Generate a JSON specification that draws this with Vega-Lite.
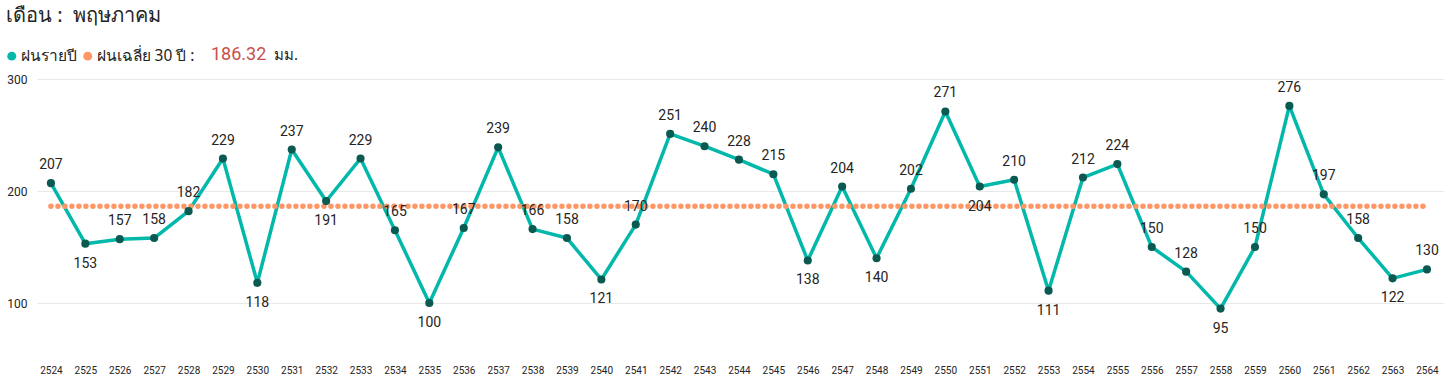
{
  "$schema": "https://vega.github.io/schema/vega-lite/v6.json",
  "width": 1407,
  "height": 280,
  "autosize": "none",
  "padding": {"left": 37, "top": 79, "right": 0, "bottom": 22},
  "background": "white",
  "title": {"text": "เดือน :\u00a0\u00a0พฤษภาคม", "anchor": "start", "frame": "group", "fontSize": 20, "fontWeight": "normal", "color": "#252423", "font": "Noto Sans", "dx": -31, "offset": 0, "baseline": "bottom"},
  "datasets": {
    "rain": [
      {"year": 2524, "rain": 207}, {"year": 2525, "rain": 153}, {"year": 2526, "rain": 157},
      {"year": 2527, "rain": 158}, {"year": 2528, "rain": 182}, {"year": 2529, "rain": 229},
      {"year": 2530, "rain": 118}, {"year": 2531, "rain": 237}, {"year": 2532, "rain": 191},
      {"year": 2533, "rain": 229}, {"year": 2534, "rain": 165}, {"year": 2535, "rain": 100},
      {"year": 2536, "rain": 167}, {"year": 2537, "rain": 239}, {"year": 2538, "rain": 166},
      {"year": 2539, "rain": 158}, {"year": 2540, "rain": 121}, {"year": 2541, "rain": 170},
      {"year": 2542, "rain": 251}, {"year": 2543, "rain": 240}, {"year": 2544, "rain": 228},
      {"year": 2545, "rain": 215}, {"year": 2546, "rain": 138}, {"year": 2547, "rain": 204},
      {"year": 2548, "rain": 140}, {"year": 2549, "rain": 202}, {"year": 2550, "rain": 271},
      {"year": 2551, "rain": 204}, {"year": 2552, "rain": 210}, {"year": 2553, "rain": 111},
      {"year": 2554, "rain": 212}, {"year": 2555, "rain": 224}, {"year": 2556, "rain": 150},
      {"year": 2557, "rain": 128}, {"year": 2558, "rain": 95}, {"year": 2559, "rain": 150},
      {"year": 2560, "rain": 276}, {"year": 2561, "rain": 197}, {"year": 2562, "rain": 158},
      {"year": 2563, "rain": 122}, {"year": 2564, "rain": 130}
    ],
    "avg": [{"name": "ฝนเฉลี่ย 30 ปี", "value": 186.32, "unit": "มม."}]
  },
  "config": {
    "view": {"stroke": null},
    "font": "Roboto"
  },
  "layer": [
    {
      "data": {"name": "rain"},
      "mark": {"type": "line", "strokeWidth": 3.5, "strokeJoin": "round"},
      "encoding": {
        "x": {"field": "year", "type": "ordinal", "sort": "ascending",
          "scale": {"type": "point", "padding": 0.45, "align": 0.45},
          "axis": {"title": null, "labelAngle": 0, "domain": false, "ticks": false, "grid": false, "labelFont": "Roboto", "labelFontSize": 10, "labelColor": "#252423", "labelPadding": 6}},
        "y": {"field": "rain", "type": "quantitative",
          "scale": {"domain": [50, 300], "nice": false, "zero": false},
          "axis": {"title": null, "values": [100, 200, 300], "domain": false, "ticks": false, "gridColor": "#E9E9E9", "gridWidth": 1, "labelFont": "Roboto", "labelFontSize": 12, "labelColor": "#252423", "labelPadding": 10}},
        "color": {"datum": "ฝนรายปี", "type": "nominal",
          "scale": {"domain": ["ฝนรายปี", "ฝนเฉลี่ย 30 ปี :"], "range": ["#01B8AA", "#FE9666"]},
          "legend": {"title": null, "orient": "none", "legendX": -33, "legendY": -31, "direction": "horizontal",
            "symbolType": "circle", "symbolSize": 80, "labelFont": "Noto Sans", "labelFontSize": 15.5, "labelColor": "#252423",
            "labelOffset": 1, "columnPadding": 3, "symbolOffset": 0,
            "encode": {"symbols": {"update": {"fill": {"scale": "color", "field": "value"}, "strokeWidth": {"value": 0}}}}}}
      }
    },
    {
      "data": {"name": "avg"},
      "mark": {"type": "rule", "strokeWidth": 5.5, "strokeDash": [0, 7], "strokeCap": "round", "color": "#FE9666"},
      "encoding": {
        "x": {"datum": 2524, "type": "ordinal"},
        "x2": {"datum": 2564},
        "y": {"field": "value", "type": "quantitative"}
      }
    },
    {
      "data": {"name": "rain"},
      "mark": {"type": "circle", "size": 66, "opacity": 1, "color": "#0B5A52"},
      "encoding": {
        "x": {"field": "year", "type": "ordinal"},
        "y": {"field": "rain", "type": "quantitative"}
      }
    },
    {
      "data": {"name": "rain"},
      "transform": [
        {"window": [{"op": "lag", "field": "rain", "as": "prev"}, {"op": "lead", "field": "rain", "as": "next"}], "sort": [{"field": "year"}]},
        {"filter": "!((datum.prev == null || datum.rain < datum.prev) && (datum.next == null || datum.rain < datum.next))"}
      ],
      "mark": {"type": "text", "dy": -18, "fontSize": 14, "font": "Roboto", "color": "#252423", "baseline": "middle"},
      "encoding": {
        "x": {"field": "year", "type": "ordinal"},
        "y": {"field": "rain", "type": "quantitative"},
        "text": {"field": "rain", "type": "quantitative"}
      }
    },
    {
      "data": {"name": "rain"},
      "transform": [
        {"window": [{"op": "lag", "field": "rain", "as": "prev"}, {"op": "lead", "field": "rain", "as": "next"}], "sort": [{"field": "year"}]},
        {"filter": "(datum.prev == null || datum.rain < datum.prev) && (datum.next == null || datum.rain < datum.next)"}
      ],
      "mark": {"type": "text", "dy": 20, "fontSize": 14, "font": "Roboto", "color": "#252423", "baseline": "middle"},
      "encoding": {
        "x": {"field": "year", "type": "ordinal"},
        "y": {"field": "rain", "type": "quantitative"},
        "text": {"field": "rain", "type": "quantitative"}
      }
    },
    {
      "data": {"name": "avg"},
      "mark": {"type": "text", "align": "left", "baseline": "middle", "dx": -12, "fontSize": 18, "font": "Roboto", "color": "#C8504B", "clip": false},
      "encoding": {
        "x": {"datum": 2529, "type": "ordinal"},
        "y": {"datum": 321.5, "type": "quantitative"},
        "text": {"field": "value", "type": "quantitative", "format": ".2f"}
      }
    },
    {
      "data": {"name": "avg"},
      "mark": {"type": "text", "align": "left", "baseline": "middle", "dx": 51, "fontSize": 15, "font": "Noto Sans", "color": "#252423", "clip": false},
      "encoding": {
        "x": {"datum": 2529, "type": "ordinal"},
        "y": {"datum": 321.5, "type": "quantitative"},
        "text": {"field": "unit", "type": "nominal"}
      }
    }
  ]
}
